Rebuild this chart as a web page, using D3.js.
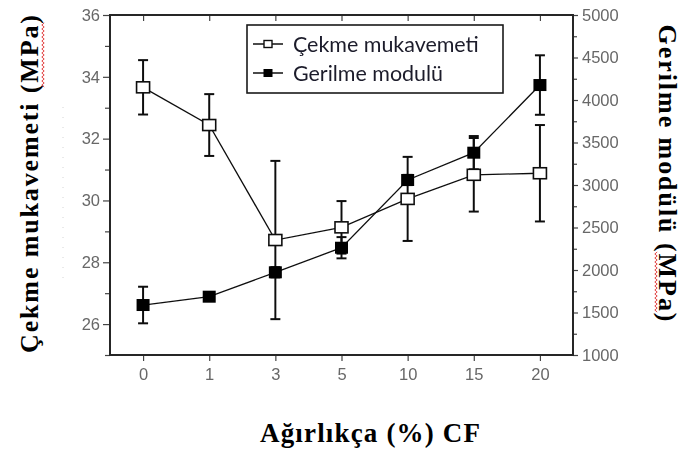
<!DOCTYPE html>
<html>
<head>
<meta charset="utf-8">
<script src="https://cdn.jsdelivr.net/npm/d3@7/dist/d3.min.js"></script>
<style>
  html, body { margin: 0; padding: 0; background: #fff; }
  svg { display: block; }
</style>
</head>
<body>
<svg id="chart" width="681" height="453"></svg>
<script>
// CF content (wt %) along the bottom axis
const categories = ["0", "1", "3", "5", "10", "15", "20"];

// Tensile strength (MPa), left axis, with standard deviation
const cekmeMukavemeti = [33.66, 32.44, 28.72, 29.13, 30.05, 30.83, 30.88];
const cekmeHata       = [0.88, 1.0, 2.56, 0.85, 1.36, 1.19, 1.56];

// Elastic modulus (MPa), right axis, with standard deviation
const gerilmeModulu = [1588, 1686, 1973, 2262, 3059, 3380, 4176];
const gerilmeHata   = [215, 40, 60, 125, 60, 196, 350];

// Axis ticks
const leftTicks  = [26, 28, 30, 32, 34, 36];
const leftMinor  = [25, 27, 29, 31, 33, 35];
const rightTicks = [1000, 1500, 2000, 2500, 3000, 3500, 4000, 4500, 5000];
const rightMinor = [1250, 1750, 2250, 2750, 3250, 3750, 4250, 4750];

const seriesNames = ["Çekme mukavemeti", "Gerilme modulü"];

const svg = d3.select("#chart");
const plot = { left: 110, right: 573, top: 15, bottom: 355 };

const defs = svg.append("defs");
defs.append("filter").attr("id", "soft")
  .append("feGaussianBlur").attr("stdDeviation", 0.55);
defs.append("filter").attr("id", "softer")
  .append("feGaussianBlur").attr("stdDeviation", 0.35);

const x = d3.scalePoint().domain(categories)
  .range([plot.left, plot.right]).padding(0.5);
const yL = d3.scaleLinear().domain([25, 36]).range([plot.bottom, plot.top]);
const yR = d3.scaleLinear().domain([1000, 5000]).range([plot.bottom, plot.top]);

const tickFont = "'Liberation Sans', Arial, sans-serif";
const tickColor = "#676767";

function styleAxis(g, showLabels) {
  g.select(".domain").remove();
  g.selectAll(".tick line").attr("stroke", "#444").attr("stroke-width", 1.2);
  g.selectAll(".tick text")
    .attr("fill", tickColor)
    .attr("font-family", tickFont)
    .attr("font-size", 16.5)
    .attr("filter", "url(#soft)");
  if (!showLabels) g.selectAll(".tick text").remove();
}

// Left axis (tensile strength)
svg.append("g").attr("transform", `translate(${plot.left},0)`)
  .call(d3.axisLeft(yL).tickValues(leftTicks).tickSize(7).tickPadding(3).tickFormat(d3.format("d")))
  .call(g => styleAxis(g, true));
svg.append("g").attr("transform", `translate(${plot.left},0)`)
  .call(d3.axisLeft(yL).tickValues(leftMinor).tickSize(5))
  .call(g => styleAxis(g, false));

// Right axis (modulus)
svg.append("g").attr("transform", `translate(${plot.right},0)`)
  .call(d3.axisRight(yR).tickValues(rightTicks).tickSize(5).tickPadding(4).tickFormat(d3.format("d")))
  .call(g => styleAxis(g, true));
svg.append("g").attr("transform", `translate(${plot.right},0)`)
  .call(d3.axisRight(yR).tickValues(rightMinor).tickSize(4))
  .call(g => styleAxis(g, false));

// Bottom axis
svg.append("g").attr("transform", `translate(0,${plot.bottom})`)
  .call(d3.axisBottom(x).tickSize(6).tickPadding(7))
  .call(g => styleAxis(g, true));

// Top edge ticks pointing inward
svg.append("g").attr("transform", `translate(0,${plot.top})`)
  .call(d3.axisBottom(x).tickSize(6))
  .call(g => styleAxis(g, false));

// Frame
svg.append("rect")
  .attr("x", plot.left).attr("y", plot.top)
  .attr("width", plot.right - plot.left).attr("height", plot.bottom - plot.top)
  .attr("fill", "none").attr("stroke", "#262626").attr("stroke-width", 2);

const marks = svg.append("g").attr("filter", "url(#softer)");

function drawSeries(values, errors, yScale) {
  const pts = values.map((v, i) => ({ c: categories[i], v, e: errors[i] }));
  // error bars
  const eb = marks.append("g");
  pts.forEach(p => {
    const cx = x(p.c), y0 = yScale(p.v - p.e), y1 = yScale(p.v + p.e);
    eb.append("line").attr("x1", cx).attr("x2", cx).attr("y1", y0).attr("y2", y1)
      .attr("stroke", "#111").attr("stroke-width", 2);
    [y0, y1].forEach(yy => eb.append("line")
      .attr("x1", cx - 5).attr("x2", cx + 5).attr("y1", yy).attr("y2", yy)
      .attr("stroke", "#111").attr("stroke-width", 2));
  });
  // connecting line
  marks.append("path").datum(pts)
    .attr("fill", "none").attr("stroke", "#111").attr("stroke-width", 1.3)
    .attr("d", d3.line().x(p => x(p.c)).y(p => yScale(p.v)));
  return pts;
}

const ptsT = drawSeries(cekmeMukavemeti, cekmeHata, yL);
const ptsG = drawSeries(gerilmeModulu, gerilmeHata, yR);

// markers
marks.append("g").selectAll("rect").data(ptsG).join("rect")
  .attr("x", p => x(p.c) - 6.5).attr("y", p => yR(p.v) - 6)
  .attr("width", 13).attr("height", 12)
  .attr("fill", "#000");
marks.append("g").selectAll("rect").data(ptsT).join("rect")
  .attr("x", p => x(p.c) - 6.5).attr("y", p => yL(p.v) - 5.5)
  .attr("width", 13).attr("height", 11)
  .attr("fill", "#fff").attr("stroke", "#111").attr("stroke-width", 1.6);

// Legend
const lg = svg.append("g").attr("filter", "url(#softer)");
lg.append("rect").attr("x", 247).attr("y", 25).attr("width", 256).attr("height", 68)
  .attr("fill", "#fff").attr("stroke", "#1a1a1a").attr("stroke-width", 1.6);
const rows = [44, 73];
seriesNames.forEach((name, i) => {
  const yy = rows[i];
  lg.append("line").attr("x1", 253).attr("x2", 283).attr("y1", yy).attr("y2", yy)
    .attr("stroke", "#111").attr("stroke-width", 1.5);
  if (i === 0) {
    lg.append("rect").attr("x", 264).attr("y", yy - 3.5).attr("width", 8).attr("height", 7)
      .attr("fill", "#fff").attr("stroke", "#111").attr("stroke-width", 1.4);
  } else {
    lg.append("rect").attr("x", 263.5).attr("y", yy - 4).attr("width", 9).attr("height", 8)
      .attr("fill", "#000");
  }
  lg.append("text").attr("class", "legend-label")
    .attr("x", 293).attr("y", yy).attr("dy", "0.35em")
    .attr("font-family", "Lato, 'Open Sans', sans-serif")
    .attr("font-size", 19).attr("fill", "#1b1b2a")
    .text(name);
});
// size the legend labels so the longer one spans 186px
{
  const first = lg.select(".legend-label").node();
  const w = first.getComputedTextLength();
  if (w > 0) lg.selectAll(".legend-label").attr("font-size", 19 * 186 / w);
}

// Axis titles (bold serif)
const serif = "'Liberation Serif', 'Times New Roman', serif";
svg.append("text")
  .attr("transform", "translate(38,184) rotate(-90)")
  .attr("text-anchor", "middle").attr("font-family", serif).attr("font-weight", "bold")
  .attr("font-size", 26).attr("fill", "#000")
  .attr("textLength", 338).attr("lengthAdjust", "spacing")
  .text("Çekme mukavemeti (MPa)");

svg.append("text")
  .attr("transform", "translate(659,173) rotate(90)")
  .attr("text-anchor", "middle").attr("font-family", serif).attr("font-weight", "bold")
  .attr("font-size", 26).attr("fill", "#000")
  .attr("textLength", 297).attr("lengthAdjust", "spacing")
  .text("Gerilme modülü (MPa)");

svg.append("text")
  .attr("x", 370).attr("y", 442)
  .attr("text-anchor", "middle").attr("font-family", serif).attr("font-weight", "bold")
  .attr("font-size", 27).attr("fill", "#000")
  .attr("textLength", 220).attr("lengthAdjust", "spacing")
  .text("Ağırlıkça (%) CF");

// Spell-check style red wavy underlines beneath "MPa"
function wavy(x0, y0, x1, y1) {
  const len = Math.hypot(x1 - x0, y1 - y0), n = Math.floor(len / 2);
  const ux = (x1 - x0) / len, uy = (y1 - y0) / len, nx = -uy, ny = ux;
  const pts = d3.range(n + 1).map(k => {
    const t = k * 2, o = (k % 2 ? 1.2 : -1.2);
    return [x0 + ux * t + nx * o, y0 + uy * t + ny * o];
  });
  return d3.line()(pts);
}
svg.append("path").attr("d", wavy(43, 23, 43, 87))
  .attr("fill", "none").attr("stroke", "#e03030").attr("stroke-width", 0.9);
svg.append("path").attr("d", wavy(656, 252, 656, 313))
  .attr("fill", "none").attr("stroke", "#e03030").attr("stroke-width", 0.9);

// faint dotted trace left of the axis
svg.append("line").attr("x1", 63).attr("x2", 63).attr("y1", 107).attr("y2", 284)
  .attr("stroke", "#d4d4d4").attr("stroke-width", 1).attr("stroke-dasharray", "1,9");
</script>
</body>
</html>
